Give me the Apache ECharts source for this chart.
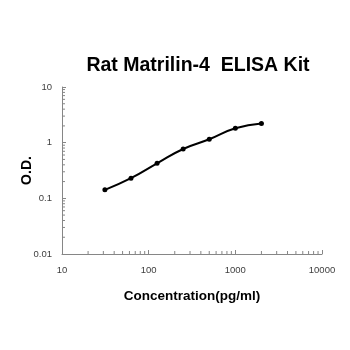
<!DOCTYPE html>
<html>
<head>
<meta charset="utf-8">
<script src="https://cdn.jsdelivr.net/npm/echarts@6/dist/echarts.min.js"></script>
<style>
  html, body { margin: 0; padding: 0; background: #fff; }
  #chart { width: 350px; height: 350px; }
</style>
</head>
<body>
<div id="chart"></div>
<script>
// Standard curve: concentration (pg/ml) vs optical density
const concentrations = [31.25, 62.5, 125, 250, 500, 1000, 2000];
const odValues = [0.142, 0.230, 0.425, 0.77, 1.15, 1.81, 2.22];

// Minor tick positions for the log axes (2..9 within each decade)
const xMinorTicks = [20, 30, 40, 50, 60, 70, 80, 90,
                     200, 300, 400, 500, 600, 700, 800, 900,
                     2000, 3000, 4000, 5000, 6000, 7000, 8000, 9000];
const yMinorTicks = [0.02, 0.03, 0.04, 0.05, 0.06, 0.07, 0.08, 0.09,
                     0.2, 0.3, 0.4, 0.5, 0.6, 0.7, 0.8, 0.9,
                     2, 3, 4, 5, 6, 7, 8, 9];

const X_MIN = 10, X_MAX = 10000, Y_MIN = 0.01, Y_MAX = 10;
const axisColor = '#868686';
const labelColor = '#404040';
const font = 'Arial, "Liberation Sans", sans-serif';

// plain number text, no thousands separators
const plain = v => String(+Number(v).toPrecision(3));

const chart = echarts.init(document.getElementById('chart'), null, { renderer: 'canvas' });

chart.setOption({
  animation: false,
  backgroundColor: '#ffffff',
  title: {
    text: 'Rat Matrilin-4  ELISA Kit',
    left: 193,
    top: 51,
    textAlign: 'center',
    textStyle: { fontFamily: font, fontWeight: 'bold', fontSize: 19.5, color: '#000' }
  },
  grid: { left: 62, right: 28, top: 87, bottom: 96, containLabel: false },
  xAxis: {
    type: 'log',
    logBase: 10,
    min: X_MIN,
    max: X_MAX,
    name: 'Concentration(pg/ml)',
    nameLocation: 'middle',
    nameGap: 35,
    nameMoveOverlap: false,
    nameTextStyle: { fontFamily: font, fontWeight: 'bold', fontSize: 13.5, color: '#000' },
    axisLine: { show: true, lineStyle: { color: axisColor, width: 1 } },
    axisTick: { show: true, inside: true, length: 4, lineStyle: { color: axisColor } },
    axisLabel: { fontFamily: font, fontSize: 9.5, color: labelColor, margin: 11, formatter: plain },
    splitLine: { show: false }
  },
  yAxis: {
    type: 'log',
    logBase: 10,
    min: Y_MIN,
    max: Y_MAX,
    name: 'O.D.',
    nameLocation: 'middle',
    nameRotate: 90,
    nameGap: 28,
    nameMoveOverlap: false,
    nameTextStyle: { fontFamily: font, fontWeight: 'bold', fontSize: 14, color: '#000' },
    axisLine: { show: true, lineStyle: { color: axisColor, width: 1 } },
    axisTick: { show: true, inside: true, length: 4, lineStyle: { color: axisColor } },
    axisLabel: { fontFamily: font, fontSize: 9.5, color: labelColor, margin: 10, formatter: plain },
    splitLine: { show: false }
  },
  series: [
    {
      // minor ticks along the x axis
      type: 'custom',
      silent: true,
      clip: false,
      data: xMinorTicks.map(v => [v]),
      encode: { x: 0 },
      renderItem: function (params, api) {
        const p = api.coord([api.value(0), Y_MIN]);
        return {
          type: 'line',
          shape: { x1: p[0], y1: p[1], x2: p[0], y2: p[1] - 3 },
          style: { stroke: axisColor, lineWidth: 1 }
        };
      }
    },
    {
      // minor ticks along the y axis
      type: 'custom',
      silent: true,
      clip: false,
      data: yMinorTicks.map(v => [X_MIN, v]),
      encode: { x: 0, y: 1 },
      renderItem: function (params, api) {
        const p = api.coord([X_MIN, api.value(1)]);
        return {
          type: 'line',
          shape: { x1: p[0], y1: p[1], x2: p[0] + 3, y2: p[1] },
          style: { stroke: axisColor, lineWidth: 1 }
        };
      }
    },
    {
      type: 'line',
      data: concentrations.map((c, i) => [c, odValues[i]]),
      smooth: 0.5,
      symbol: 'circle',
      symbolSize: 5,
      lineStyle: { color: '#000', width: 2 },
      itemStyle: { color: '#000' }
    }
  ]
});
</script>
</body>
</html>
